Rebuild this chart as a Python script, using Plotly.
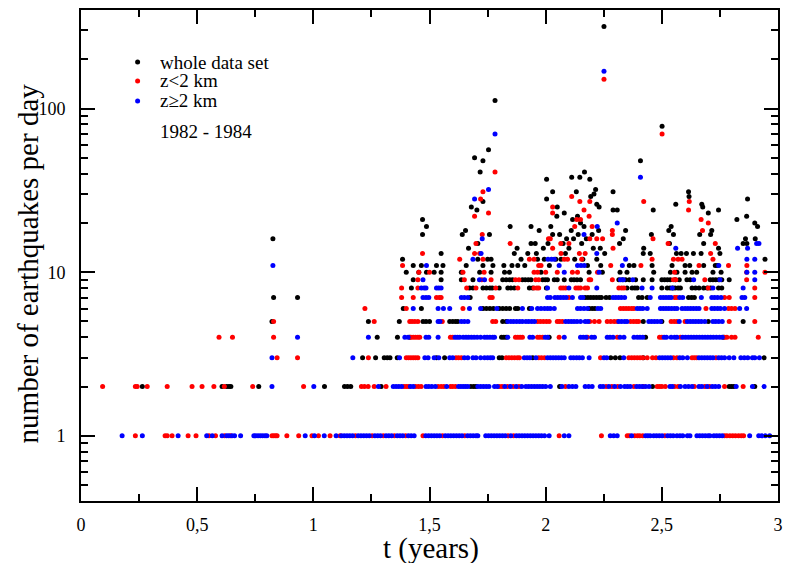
import plotly.graph_objects as go

# ---------------- data (t in years, n = earthquakes per day) ----------------
BLUE_1 = [0.177, 0.264, 0.418, 0.541, 0.565, 0.607, 0.627, 0.636, 0.65, 0.661, 0.687, 0.744, 0.752, 0.762,
          0.772, 0.782, 0.792, 0.80, 0.965, 1.005, 1.047, 1.098,
          1.121, 1.133, 1.145, 1.157, 1.169, 1.193, 1.205, 1.217, 1.229, 1.241, 1.265, 1.277, 1.289, 1.313,
          1.325, 1.337, 1.361, 1.373, 1.385, 1.409, 1.421, 1.434,
          1.484, 1.496, 1.508, 1.52, 1.532, 1.544, 1.568, 1.58, 1.592, 1.604, 1.616, 1.628, 1.64, 1.664,
          1.676, 1.688, 1.70, 1.708,
          1.742, 1.754, 1.766, 1.778, 1.79, 1.802, 1.814, 1.826, 1.85, 1.874, 1.886, 1.898, 1.91, 1.922,
          1.934, 1.946, 1.958, 1.97, 1.982, 1.995,
          2.015, 2.08, 2.10, 2.278, 2.293, 2.308, 2.37, 2.43, 2.44, 2.45,
          2.465, 2.477, 2.489, 2.501, 2.525, 2.537, 2.549, 2.565, 2.578, 2.59, 2.61, 2.621, 2.651, 2.663,
          2.675, 2.687, 2.699, 2.707, 2.724, 2.736, 2.748, 2.76, 2.878, 2.917, 2.93, 2.945, 2.964]
RED_1 = [0.234, 0.362, 0.371, 0.392, 0.461, 0.495, 0.551, 0.579, 0.618, 0.644, 0.822, 0.83, 0.838, 0.844,
         0.886, 0.937, 0.994, 1.022, 1.072, 1.115, 1.181, 1.253, 1.301, 1.349, 1.397, 1.472, 1.556, 1.652,
         1.838, 1.862, 2.058, 2.24, 2.351, 2.36, 2.383, 2.395, 2.405, 2.418, 2.513, 2.77, 2.78, 2.793,
         2.805, 2.817, 2.83, 2.842, 2.852]

BLACK_2 = [0.264, 0.607, 0.627, 0.637, 0.645, 0.765, 1.048, 1.134, 1.147, 1.161, 1.292, 1.678, 1.69, 1.70,
           2.06, 2.46, 2.79, 2.80, 2.81, 2.90]
RED_2 = [0.093, 0.234, 0.242, 0.285, 0.371, 0.478, 0.521, 0.572, 0.617, 0.739, 0.958, 1.207, 1.22, 1.236,
         1.262, 1.313, 1.39, 1.40, 1.41, 1.44, 1.452, 1.464, 1.537, 1.55, 1.562, 1.59, 1.60, 1.612, 1.80,
         1.812, 1.836, 1.86, 1.885, 2.085, 2.26, 2.285, 2.31, 2.38, 2.42, 2.48, 2.49, 2.50, 2.515, 2.555,
         2.57, 2.64, 2.685, 2.705, 2.77, 2.85]
BLUE_2 = [0.822, 1.002, 1.28, 1.344, 1.356, 1.368, 1.38, 1.418, 1.43, 1.485, 1.497, 1.51, 1.525, 1.574,
          1.625, 1.635, 1.645, 1.655, 1.665, 1.708, 1.72, 1.732, 1.744, 1.756, 1.78, 1.792, 1.824, 1.848,
          1.873, 1.897, 1.915, 1.927, 1.939, 1.951, 1.963, 1.975, 1.987, 2.0, 2.02, 2.07, 2.10, 2.115, 2.13,
          2.17, 2.185, 2.20, 2.235, 2.247, 2.272, 2.297, 2.322, 2.34, 2.352, 2.364, 2.392, 2.404, 2.416,
          2.43, 2.445, 2.535, 2.545, 2.58, 2.60, 2.615, 2.63, 2.66, 2.672, 2.695, 2.717, 2.73, 2.745, 2.82,
          2.89, 2.94]

BLACK_3 = [1.212, 1.268, 1.305, 1.318, 1.33, 1.361, 1.53, 1.565, 1.80, 1.812, 1.944, 2.28, 2.30, 2.32,
           2.42, 2.94]
RED_3 = [0.844, 0.932, 1.237, 1.40, 1.41, 1.42, 1.43, 1.44, 1.45, 1.614, 1.625, 1.637, 1.83, 1.842, 1.854,
         1.866, 1.878, 1.887, 1.97, 1.982, 1.995, 2.236, 2.358, 2.37, 2.382, 2.394, 2.406, 2.418, 2.437,
         2.46, 2.475, 2.55, 2.565, 2.63, 2.64, 2.65, 2.733]
BLUE_3 = [0.822, 1.17, 1.371, 1.48, 1.494, 1.52, 1.54, 1.587, 1.60, 1.65, 1.665, 1.687, 1.70, 1.72, 1.737,
          1.75, 1.762, 1.772, 1.908, 1.92, 1.932, 1.958, 2.008, 2.02, 2.032, 2.044, 2.056, 2.068, 2.08,
          2.108, 2.12, 2.133, 2.145, 2.158, 2.187, 2.251, 2.263, 2.336, 2.49, 2.502, 2.514, 2.526, 2.538,
          2.577, 2.59, 2.61, 2.66, 2.672, 2.684, 2.696, 2.708, 2.72, 2.745, 2.757, 2.77, 2.79, 2.81, 2.84,
          2.855, 2.87, 2.89, 2.90, 2.92]

BLACK_4 = [1.275, 1.362, 1.415, 1.81, 1.82, 1.83, 2.015, 2.43, 2.765]
RED_4 = [0.594, 0.652, 0.829, 1.42, 1.43, 1.44, 1.45, 1.458, 1.59, 1.60, 1.87, 1.88, 1.89, 1.90, 1.965,
         1.975, 1.987, 2.058, 2.18, 2.308, 2.49, 2.50, 2.58, 2.77, 2.78, 2.80, 2.815, 2.915]
BLUE_4 = [0.932, 1.237, 1.394, 1.408, 1.485, 1.497, 1.537, 1.61, 1.62, 1.63, 1.645, 1.657, 1.668, 1.68,
          1.692, 1.705, 1.72, 1.737, 1.748, 1.76, 1.772, 1.78, 1.837, 1.932, 1.944, 1.998, 2.008, 2.08,
          2.15, 2.162, 2.174, 2.198, 2.21, 2.265, 2.277, 2.29, 2.32, 2.337, 2.38, 2.394, 2.406, 2.418,
          2.51, 2.52, 2.54, 2.555, 2.565, 2.59, 2.602, 2.614, 2.626, 2.638, 2.65, 2.662, 2.674, 2.686,
          2.698, 2.71, 2.722, 2.735, 2.748, 2.76]

BLACK_5 = [0.822, 1.237, 1.37, 1.472, 1.485, 1.50, 1.587, 1.60, 1.612, 1.622, 1.815, 1.83, 2.42, 2.50,
           2.70, 2.85]
RED_5 = [0.829, 1.262, 1.415, 1.425, 1.437, 1.45, 1.555, 1.772, 1.785, 1.965, 1.977, 1.99, 2.003, 2.015,
         2.05, 2.06, 2.072, 2.19, 2.21, 2.23, 2.265, 2.28, 2.295, 2.308, 2.365, 2.378, 2.39, 2.40, 2.54,
         2.553, 2.565, 2.60, 2.79, 2.90]
BLUE_5 = [1.537, 1.545, 1.637, 1.65, 1.665, 1.837, 1.85, 1.862, 1.875, 1.888, 1.90, 1.915, 1.927, 1.94,
          1.952, 2.086, 2.098, 2.11, 2.122, 2.135, 2.15, 2.17, 2.182, 2.315, 2.327, 2.34, 2.35, 2.444,
          2.456, 2.468, 2.48, 2.494, 2.575, 2.61, 2.622, 2.634, 2.646, 2.658, 2.67, 2.685, 2.72, 2.732,
          2.745, 2.76]

BLACK_6 = [1.387, 1.465, 1.73, 1.745, 1.76, 1.775, 1.80, 1.815, 1.83, 1.845, 1.87, 1.88, 1.93, 2.187,
           2.2, 2.212]
RED_6 = [1.222, 1.40, 1.644, 2.322, 2.334, 2.346, 2.358, 2.37, 2.38, 2.69, 2.787, 2.80, 2.815]
BLUE_6 = [1.43, 1.537, 1.56, 1.587, 1.672, 1.72, 1.79, 1.90, 1.94, 1.965, 1.98, 1.995, 2.008, 2.02, 2.037,
          2.137, 2.15, 2.165, 2.18, 2.225, 2.237, 2.394, 2.406, 2.418, 2.437, 2.494, 2.506, 2.518, 2.53,
          2.542, 2.554, 2.565, 2.587, 2.6, 2.612, 2.624, 2.636, 2.648, 2.66, 2.715, 2.727, 2.74, 2.752,
          2.77, 2.835, 2.865]

BLACK_7 = [0.829, 0.932, 1.675, 2.17, 2.182, 2.194, 2.206, 2.218, 2.23, 2.24, 2.26, 2.275, 2.40, 2.415,
           2.437, 2.615, 2.628, 2.64]
RED_7 = [1.38, 1.43, 1.53, 1.542, 1.55, 1.76, 1.77, 2.10, 2.555, 2.565, 2.77, 2.79, 2.90]
BLUE_7 = [1.472, 1.485, 1.497, 1.637, 1.65, 1.665, 2.008, 2.02, 2.04, 2.052, 2.064, 2.076, 2.088, 2.115,
          2.15, 2.16, 2.29, 2.302, 2.314, 2.326, 2.34, 2.45, 2.494, 2.506, 2.518, 2.53, 2.54, 2.577, 2.59,
          2.67, 2.715, 2.727, 2.74, 2.755, 2.845, 2.857]

BLACK_8 = [1.422, 1.672, 1.687, 1.73, 1.745, 1.76, 1.77, 1.80, 1.837, 1.85, 1.865, 1.93, 1.944, 2.003,
           2.35, 2.372, 2.384, 2.394, 2.50, 2.523, 2.535, 2.547, 2.557, 2.57, 2.58, 2.63, 2.645, 2.66, 2.68,
           2.695, 2.71, 2.744, 2.758]
RED_8 = [1.38, 1.45, 1.66, 1.70, 1.785, 1.88, 1.95, 1.962, 1.97, 2.065, 2.075, 2.086, 2.13, 2.14, 2.15,
         2.17, 2.18, 2.315, 2.327, 2.337, 2.70, 2.90]
BLUE_8 = [1.465, 1.477, 1.485, 1.53, 1.54, 1.55, 2.008, 2.10, 2.22, 2.415, 2.458, 2.545, 2.72, 2.85]

BLACK_9 = [1.43, 1.55, 1.637, 1.687, 1.815, 1.83, 1.845, 1.857, 1.90, 1.912, 1.925, 1.937, 1.987, 1.998,
           2.008, 2.037, 2.05, 2.08, 2.11, 2.122, 2.135, 2.15, 2.315, 2.33, 2.344, 2.36, 2.387, 2.42,
           2.458, 2.50, 2.512, 2.524, 2.536, 2.558, 2.575, 2.608, 2.622, 2.708, 2.72, 2.732, 2.745, 2.758,
           2.79]
RED_9 = [1.45, 1.65, 1.725, 1.765, 1.87, 1.885, 1.957, 1.97, 2.187, 2.194, 2.287, 2.55, 2.56, 2.685,
         2.865]
BLUE_9 = [1.472, 1.715, 1.737, 2.322, 2.334, 2.375, 2.637, 2.75, 2.90]

# days with 10 or more events: (t, n)
BLACK_HIGH = [
    (0.826, 16),
    (1.384, 12), (1.40, 10), (1.43, 11), (1.454, 10), (1.465, 11), (1.487, 10), (1.47, 21), (1.487, 19),
    (1.47, 17), (1.53, 11), (1.55, 13), (1.52, 10), (1.55, 10), (1.558, 11),
    (1.637, 10), (1.641, 17), (1.655, 18), (1.658, 11), (1.668, 14), (1.68, 25), (1.694, 50), (1.704, 24),
    (1.718, 41), (1.73, 48), (1.73, 27), (1.708, 15), (1.708, 12), (1.716, 10), (1.73, 11), (1.754, 56),
    (1.758, 17), (1.75, 12), (1.765, 12), (1.765, 10), (1.773, 11), (1.782, 112),
    (1.82, 11), (1.823, 10), (1.844, 10), (1.847, 19), (1.855, 11), (1.865, 13), (1.877, 14), (1.88, 11),
    (1.894, 12), (1.91, 11), (1.923, 13), (1.937, 19), (1.937, 15), (1.955, 15), (1.96, 13), (1.965, 12),
    (1.972, 18), (1.98, 10), (1.99, 14), (1.994, 12),
    (2.004, 37), (2.004, 28), (2.01, 15), (2.016, 11), (2.022, 19), (2.03, 31), (2.03, 17), (2.044, 12),
    (2.048, 22), (2.05, 25), (2.06, 17), (2.066, 12), (2.075, 15), (2.08, 23), (2.085, 13), (2.09, 16),
    (2.10, 14), (2.11, 18), (2.112, 38), (2.116, 21), (2.12, 16), (2.125, 12), (2.132, 31), (2.137, 22),
    (2.14, 17), (2.147, 38), (2.15, 20), (2.155, 15), (2.16, 12), (2.165, 19), (2.167, 41), (2.175, 16),
    (2.18, 11), (2.187, 10), (2.19, 37), (2.194, 29), (2.2, 17), (2.205, 14), (2.208, 30), (2.215, 32),
    (2.22, 26), (2.22, 12), (2.228, 18), (2.23, 25), (2.235, 14), (2.237, 11), (2.244, 10), (2.251, 317),
    (2.254, 13),
    (2.29, 31), (2.29, 24), (2.308, 24), (2.318, 15), (2.32, 10), (2.334, 16), (2.344, 18), (2.35, 10),
    (2.36, 11), (2.38, 11), (2.408, 48), (2.42, 13), (2.422, 14), (2.45, 13), (2.455, 17), (2.458, 11),
    (2.463, 24), (2.465, 10), (2.501, 78),
    (2.53, 18), (2.533, 15), (2.537, 10), (2.54, 19), (2.544, 11), (2.55, 17), (2.56, 26), (2.563, 13),
    (2.565, 10), (2.583, 13), (2.60, 11), (2.60, 10), (2.606, 13), (2.615, 31), (2.617, 29), (2.62, 11),
    (2.63, 10), (2.636, 13), (2.65, 10), (2.663, 17), (2.669, 13), (2.672, 26), (2.676, 25), (2.68, 15),
    (2.68, 11), (2.70, 23), (2.71, 17), (2.715, 18), (2.72, 10), (2.73, 11), (2.744, 24), (2.744, 14),
    (2.74, 11), (2.75, 13), (2.755, 10),
    (2.823, 21), (2.865, 22), (2.866, 15), (2.869, 28), (2.86, 16), (2.85, 15), (2.90, 20), (2.902, 16),
    (2.912, 19), (2.944, 12),
]
RED_HIGH = [
    (1.384, 11), (1.454, 10), (1.47, 13), (1.50, 10), (1.63, 12), (1.644, 10), (1.694, 22), (1.694, 13),
    (1.70, 15), (1.716, 13), (1.72, 28), (1.727, 17), (1.73, 31), (1.73, 12), (1.735, 10), (1.754, 23),
    (1.782, 41),
    (1.847, 15), (1.93, 12), (1.95, 12), (1.95, 10), (1.965, 10), (1.97, 11), (1.98, 11), (2.0, 10),
    (2.012, 16), (2.02, 16), (2.03, 25), (2.03, 23), (2.03, 14), (2.05, 10), (2.065, 15), (2.066, 13),
    (2.08, 12), (2.094, 12), (2.10, 15), (2.112, 29), (2.115, 10), (2.125, 19), (2.134, 21), (2.137, 10),
    (2.145, 13), (2.147, 27), (2.15, 21), (2.155, 12), (2.165, 24), (2.17, 13), (2.187, 22), (2.19, 27),
    (2.19, 16), (2.2, 19), (2.22, 16), (2.223, 10), (2.245, 16), (2.251, 151),
    (2.28, 11), (2.287, 18), (2.287, 17), (2.29, 14), (2.41, 11), (2.422, 27), (2.458, 12), (2.462, 16),
    (2.501, 70), (2.527, 15), (2.55, 12), (2.555, 10), (2.57, 12), (2.587, 12), (2.615, 24), (2.618, 27),
    (2.66, 11), (2.669, 21), (2.675, 18), (2.70, 20), (2.71, 13), (2.72, 12), (2.73, 15), (2.787, 11),
    (2.866, 11), (2.865, 10), (2.944, 10),
]
BLUE_HIGH = [
    (0.826, 11), (1.487, 11), (1.694, 28), (1.687, 12), (1.727, 16), (1.722, 13), (1.754, 32), (1.782, 70),
    (2.01, 12), (2.025, 12), (2.037, 12), (2.058, 11), (2.08, 10), (2.137, 11), (2.152, 11), (2.166, 11),
    (2.165, 17), (2.222, 19), (2.22, 13), (2.23, 10), (2.251, 169), (2.308, 20), (2.33, 11), (2.344, 12),
    (2.408, 38), (2.56, 14), (2.745, 11), (2.826, 14), (2.866, 12), (2.869, 14), (2.866, 10), (2.90, 12),
    (2.908, 15), (2.918, 15), (2.90, 10),
]

SERIES_NAMES = ["whole data set", "z<2 km", "z\u22652 km"]
X_TICKS = [0, 0.5, 1, 1.5, 2, 2.5, 3]
X_TICK_TEXT = ["0", "0,5", "1", "1,5", "2", "2,5", "3"]
Y_TICKS = [1, 10, 100]
Y_TICK_TEXT = ["1", "10", "100"]
PERIOD_LABEL = "1982 - 1984"


def assemble(levels, high):
    t, n = [], []
    for count, days in levels:
        t += days
        n += [count] * len(days)
    for tt, nn in high:
        t.append(tt)
        n.append(nn)
    return t, n


black_t, black_n = assemble([(2, BLACK_2), (3, BLACK_3), (4, BLACK_4), (5, BLACK_5), (6, BLACK_6),
                             (7, BLACK_7), (8, BLACK_8), (9, BLACK_9)], BLACK_HIGH)
red_t, red_n = assemble([(1, RED_1), (2, RED_2), (3, RED_3), (4, RED_4), (5, RED_5), (6, RED_6),
                         (7, RED_7), (8, RED_8), (9, RED_9)], RED_HIGH)
blue_t, blue_n = assemble([(1, BLUE_1), (2, BLUE_2), (3, BLUE_3), (4, BLUE_4), (5, BLUE_5), (6, BLUE_6),
                           (7, BLUE_7), (8, BLUE_8), (9, BLUE_9)], BLUE_HIGH)

COLORS = ["#000000", "#ff0000", "#0000ff"]
FONT = "Liberation Serif, Times New Roman, serif"

W, H = 785, 563
ML, MR, MT, MB = 81, 2, 10, 62
PW, PH = W - ML - MR, H - MT - MB


def px(x):
    return (x - ML) / PW


def py(y):
    return (H - MB - y) / PH


fig = go.Figure()
for (tt, nn), name, col in zip([(black_t, black_n), (red_t, red_n), (blue_t, blue_n)], SERIES_NAMES, COLORS):
    fig.add_trace(go.Scatter(x=tt, y=nn, mode="markers", name=name, showlegend=False,
                             marker=dict(color=col, size=5, line=dict(width=0))))

minor_y = [0.4, 0.5, 0.6, 0.7, 0.8, 0.9, 2, 3, 4, 5, 6, 7, 8, 9, 20, 30, 40, 50, 60, 70, 80, 90, 200, 300, 400]
minor_x = [0.25, 0.75, 1.25, 1.75, 2.25, 2.75]

axis_common = dict(showline=True, linecolor="black", linewidth=2, mirror="ticks", ticks="inside",
                   ticklen=14, tickwidth=2, tickcolor="black", showgrid=False, zeroline=False,
                   ticklabeloverflow="allow",
                   tickfont=dict(family=FONT, size=18, color="black"))

fig.update_xaxes(range=[0, 3], tickmode="array", tickvals=X_TICKS, ticktext=X_TICK_TEXT,
                 minor=dict(tickmode="array", tickvals=minor_x, ticks="inside", ticklen=7, tickwidth=2,
                            tickcolor="black"),
                 ticklabelstandoff=6, **axis_common)
fig.update_yaxes(type="log", range=[-0.39794, 2.60206], tickmode="array", tickvals=Y_TICKS,
                 ticktext=Y_TICK_TEXT,
                 minor=dict(tickmode="array", tickvals=minor_y, ticks="inside", ticklen=7, tickwidth=2,
                            tickcolor="black"),
                 ticklabelstandoff=10, **axis_common)

annotations = [
    dict(text="number of earthquakes per day", xref="paper", yref="paper", x=px(28), y=py(263),
         textangle=-90, showarrow=False, xanchor="center", yanchor="middle",
         font=dict(family=FONT, size=29, color="black")),
    dict(text="t (years)", xref="paper", yref="paper", x=px(434), y=py(548), showarrow=False,
         xanchor="center", yanchor="middle", height=32, font=dict(family=FONT, size=29, color="black")),
]
shapes = []
legend_rows = [62, 81, 101]
for name, col, ry in zip(SERIES_NAMES, COLORS, legend_rows):
    annotations.append(dict(text=name, xref="paper", yref="paper", x=px(160), y=py(ry), showarrow=False,
                            xanchor="left", yanchor="middle", height=19, borderpad=0,
                            font=dict(family=FONT, size=19, color="black")))
    shapes.append(dict(type="circle", xref="paper", yref="paper", xsizemode="pixel", ysizemode="pixel",
                       xanchor=px(138), yanchor=py(ry), x0=-2.5, x1=2.5, y0=-2.5, y1=2.5,
                       fillcolor=col, line=dict(width=0)))
annotations.append(dict(text=PERIOD_LABEL, xref="paper", yref="paper", x=px(160), y=py(131),
                        showarrow=False, xanchor="left", yanchor="middle", height=22, borderpad=0,
                        font=dict(family=FONT, size=19, color="black")))

fig.update_layout(width=W, height=H, margin=dict(l=ML, r=MR, t=MT, b=MB, pad=0),
                  plot_bgcolor="white", paper_bgcolor="white", showlegend=False,
                  annotations=annotations, shapes=shapes)

fig.write_html("out.html")
